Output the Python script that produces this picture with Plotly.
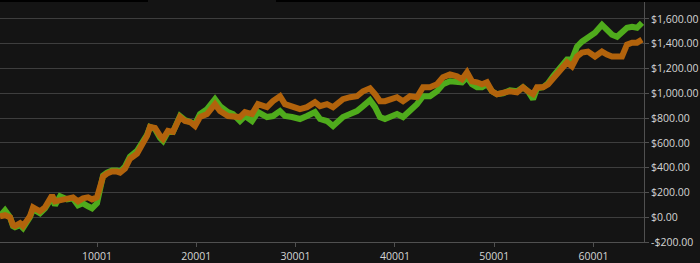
import plotly.graph_objects as go

# x positions (trade index)
x_vals = [230, 740, 1240, 1540, 1740, 2250, 2550, 2950, 3250, 3560, 3960, 4260, 4770, 5470, 5770, 6280,
          6980, 7580, 8090, 8590, 9100, 9500, 10000, 10300, 10610, 11010, 11510, 12020, 12320, 12820,
          13220, 13320, 14030, 14530, 15040, 15340, 15840, 16350, 16650, 17150, 17650, 18360, 18860,
          19370, 19870, 20370, 21080, 21880, 22390, 23190, 23700, 24400, 24900, 25610, 26210, 27120,
          27720, 28430, 28930, 29640, 30440, 31150, 31950, 32460, 33160, 33770, 34370, 34770, 35480,
          36180, 36790, 37490, 38000, 38500, 39000, 39710, 40210, 40820, 41520, 42220, 42830, 43530,
          44240, 44840, 45550, 46250, 46760, 47260, 47760, 48270, 48770, 49270, 49780, 50280, 50890,
          51590, 52300, 52900, 53400, 53910, 54310, 54910, 55420, 55920, 56420, 56830, 57330, 57830,
          58340, 58840, 59440, 60150, 60850, 61360, 61860, 62370, 62870, 63370, 63880, 64380, 64880]

green_vals = [8, 56, 0, -72, -80, -64, -88, -48, 0, 64, 48, 32, 72, 160, 96, 168,
              144, 152, 96, 112, 88, 72, 112, 232, 336, 360, 376, 376, 368, 408,
              464, 488, 536, 592, 664, 728, 712, 640, 616, 688, 688, 816, 784,
              768, 752, 832, 872, 952, 896, 848, 832, 776, 816, 776, 848, 808,
              816, 856, 816, 808, 792, 816, 848, 792, 776, 736, 776, 808, 832,
              856, 896, 944, 888, 808, 792, 816, 832, 808, 856, 912, 976, 976,
              1016, 1072, 1096, 1096, 1088, 1128, 1072, 1048, 1048, 1072, 1016, 992, 1000,
              1024, 1016, 1048, 1016, 952, 1040, 1048, 1080, 1136, 1184, 1232, 1272, 1272,
              1376, 1416, 1448, 1488, 1552, 1512, 1472, 1456, 1488, 1528, 1536, 1528, 1568]

orange_vals = [8, 16, 0, -64, -72, -48, -72, -32, 8, 80, 64, 48, 80, 176, 128, 136,
               152, 160, 128, 152, 160, 144, 160, 232, 328, 352, 368, 368, 360, 392,
               448, 472, 512, 576, 656, 728, 720, 656, 632, 696, 688, 808, 776,
               768, 736, 808, 832, 912, 856, 816, 816, 808, 848, 832, 912, 888,
               936, 976, 912, 896, 872, 888, 928, 896, 912, 888, 936, 952, 968,
               976, 1016, 1040, 992, 936, 936, 952, 968, 936, 976, 968, 1048, 1048,
               1072, 1128, 1152, 1136, 1112, 1168, 1096, 1088, 1072, 1088, 1016, 992, 1000,
               1016, 1008, 1048, 1016, 992, 1048, 1048, 1072, 1120, 1160, 1208, 1248, 1216,
               1296, 1328, 1336, 1296, 1336, 1312, 1296, 1296, 1296, 1392, 1408, 1408, 1432]

x_ticks = [10001, 20001, 30001, 40001, 50001, 60001]
x_tick_text = ["10001", "20001", "30001", "40001", "50001", "60001"]
y_ticks = [-200, 0, 200, 400, 600, 800, 1000, 1200, 1400, 1600]
y_tick_text = ["-$200.00", "$0.00", "$200.00", "$400.00", "$600.00", "$800.00",
               "$1,000.00", "$1,200.00", "$1,400.00", "$1,600.00"]

fig = go.Figure()
fig.add_trace(go.Scatter(x=x_vals, y=green_vals, mode="lines",
                         line=dict(color="#4fab1c", width=6), showlegend=False))
fig.add_trace(go.Scatter(x=x_vals, y=orange_vals, mode="lines",
                         line=dict(color="#b2630c", width=6), showlegend=False))

fig.update_layout(
    width=700, height=263,
    margin=dict(l=0, r=56, t=0, b=19),
    paper_bgcolor="#141414", plot_bgcolor="#141414",
    font=dict(family="Open Sans", size=10.5, color="#d4d4d4"),
    xaxis=dict(range=[233, 65084], tickvals=x_ticks, ticktext=x_tick_text,
               showgrid=False, zeroline=False,
               showline=True, linecolor="#505050", linewidth=1,
               ticks="outside", ticklen=4, tickcolor="#505050"),
    yaxis=dict(range=[-200, 1752], side="right", tickvals=y_ticks, ticktext=y_tick_text,
               showgrid=True, gridcolor="#3e3e3e", gridwidth=1, zeroline=False,
               showline=True, linecolor="#505050", linewidth=1,
               ticks="outside", ticklen=4, tickcolor="#505050"),
    shapes=[
        dict(type="rect", xref="paper", yref="paper", x0=-0.01, x1=148/644, y0=1-2/244, y1=1.01,
             fillcolor="#000000", line=dict(width=0), layer="above"),
        dict(type="rect", xref="paper", yref="paper", x0=276/644, x1=1.1, y0=1-2/244, y1=1.01,
             fillcolor="#000000", line=dict(width=0), layer="above"),
    ],
)

fig.write_html("out.html")
